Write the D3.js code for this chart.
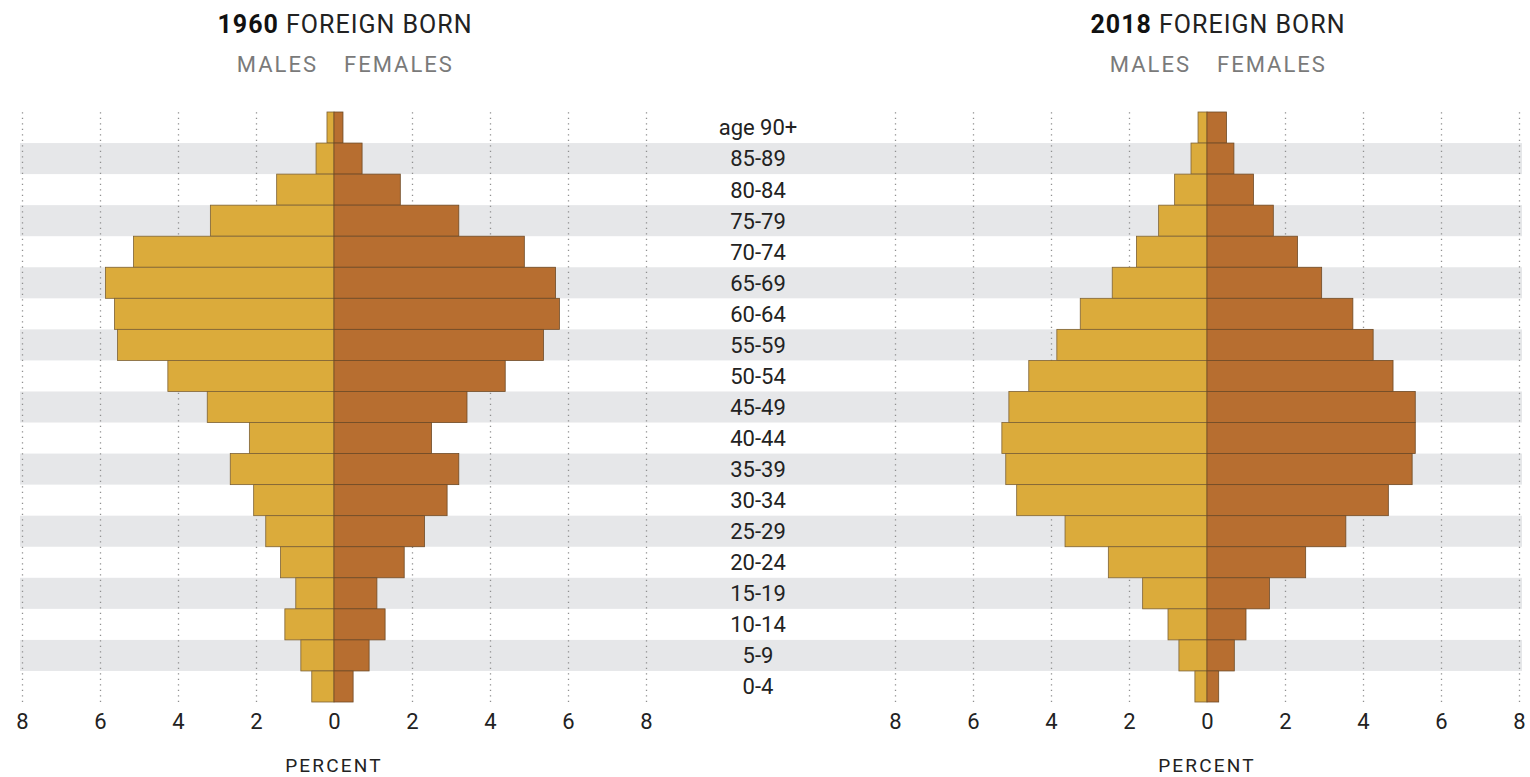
<!DOCTYPE html>
<html>
<head>
  <style>
    body{
      margin:0;
      background:#fff;
      font-family: Roboto, sans-serif;
    }
    .title{ font-size:25px; fill:#222; letter-spacing:1px; }
    .title .yr{ font-weight:bold; fill:#111; }
    .sex{ font-size:22px; fill:#7a7a7a; letter-spacing:2px; }
    .age{ font-size:22px; fill:#222; }
    .tick text{ font-size:22px; fill:#222; }
    .unit{ font-size:19px; fill:#222; letter-spacing:2.2px; }
    .grid line{ stroke:#8f8f8f; stroke-width:1.3; stroke-dasharray:1.3,4.2; }
    .band{ fill:#e6e7e9; }
  </style>
  <script src="https://d3js.org/d3.v7.min.js"></script>
</head>
<body>
<div class="chart"></div>
<script>
const ages = ['age 90+','85-89','80-84','75-79','70-74','65-69','60-64','55-59','50-54','45-49',
  '40-44','35-39','30-34','25-29','20-24','15-19','10-14','5-9','0-4'];

// percent of foreign-born population, top row first
const male1960   = [0.18,0.46,1.47,3.17,5.14,5.86,5.63,5.55,4.26,3.25,2.17,2.66,2.06,1.75,1.37,0.98,1.26,0.85,0.57];
const female1960 = [0.23,0.72,1.70,3.20,4.88,5.68,5.78,5.37,4.39,3.41,2.50,3.20,2.90,2.32,1.80,1.10,1.31,0.90,0.49];
const male2018   = [0.23,0.41,0.83,1.24,1.81,2.43,3.25,3.85,4.57,5.08,5.26,5.16,4.88,3.64,2.53,1.65,1.00,0.72,0.31];
const female2018 = [0.50,0.69,1.19,1.70,2.32,2.94,3.74,4.26,4.77,5.34,5.34,5.26,4.65,3.56,2.53,1.60,1.00,0.70,0.30];

const tickVals = [-8,-6,-4,-2,0,2,4,6,8];

const width = 1530, height = 777;
const maleColor = '#dbab3b', femaleColor = '#b76e30';

const svg = d3.select('.chart').append('svg')
  .attr('width', width)
  .attr('height', height);

const y = d3.scaleBand()
  .domain(ages)
  .range([112, 702])
  .padding(0);

// alternating grey row bands across the whole width
svg.append('g')
  .selectAll('rect')
  .data(ages.filter((d,i)=>i%2===1))
  .join('rect')
    .attr('class','band')
    .attr('x', 20)
    .attr('width', 1502)
    .attr('y', d=>y(d))
    .attr('height', y.bandwidth());

// age labels in the middle
svg.append('g')
  .selectAll('text')
  .data(ages)
  .join('text')
    .attr('class','age')
    .attr('x', 758)
    .attr('y', d=>y(d)+y.bandwidth()/2)
    .attr('dy','0.36em')
    .attr('text-anchor','middle')
    .text(d=>d);

const panels = [
  {year:'1960', male:male1960, female:female1960, range:[22,646]},
  {year:'2018', male:male2018, female:female2018, range:[895,1519]}
];

panels.forEach(p=>{
  const x = d3.scaleLinear().domain([-8,8]).range(p.range);
  const cx = x(0);

  // dotted gridlines
  svg.append('g')
    .attr('class','grid')
    .attr('transform',`translate(0,${y.range()[1]})`)
    .call(d3.axisBottom(x).tickValues(tickVals).tickSize(-(y.range()[1]-y.range()[0])).tickFormat(''))
    .call(g=>g.select('.domain').remove());

  const rows = ages.map((a,i)=>({age:a, m:p.male[i], f:p.female[i]}));

  svg.append('g')
    .selectAll('rect')
    .data(rows)
    .join('rect')
      .attr('x', d=>x(-d.m))
      .attr('y', d=>y(d.age))
      .attr('width', d=>cx-x(-d.m))
      .attr('height', y.bandwidth())
      .attr('fill', maleColor)
      .attr('stroke','#7d6236')
      .attr('stroke-width',0.8);

  svg.append('g')
    .selectAll('rect')
    .data(rows)
    .join('rect')
      .attr('x', cx)
      .attr('y', d=>y(d.age))
      .attr('width', d=>x(d.f)-cx)
      .attr('height', y.bandwidth())
      .attr('fill', femaleColor)
      .attr('stroke','#6e4a26')
      .attr('stroke-width',0.8);

  // tick labels
  svg.append('g')
    .attr('transform','translate(0,708)')
    .call(d3.axisBottom(x).tickValues(tickVals).tickSize(0).tickPadding(5).tickFormat(d=>Math.abs(d)))
    .call(g=>g.select('.domain').remove())
    .call(g=>g.selectAll('text').attr('font-family','Roboto, sans-serif'));

  svg.append('text')
    .attr('class','unit')
    .attr('x', cx)
    .attr('y', 772)
    .attr('text-anchor','middle')
    .text('PERCENT');

  const t = svg.append('text')
    .attr('class','title')
    .attr('x', cx+11)
    .attr('y', 33)
    .attr('text-anchor','middle');
  t.append('tspan').attr('class','yr').text(p.year);
  t.append('tspan').text(' FOREIGN BORN');

  svg.append('text')
    .attr('class','sex')
    .attr('x', cx-16)
    .attr('y', 72)
    .attr('text-anchor','end')
    .text('MALES');
  svg.append('text')
    .attr('class','sex')
    .attr('x', cx+10)
    .attr('y', 72)
    .text('FEMALES');
});
</script>
</body>
</html>
